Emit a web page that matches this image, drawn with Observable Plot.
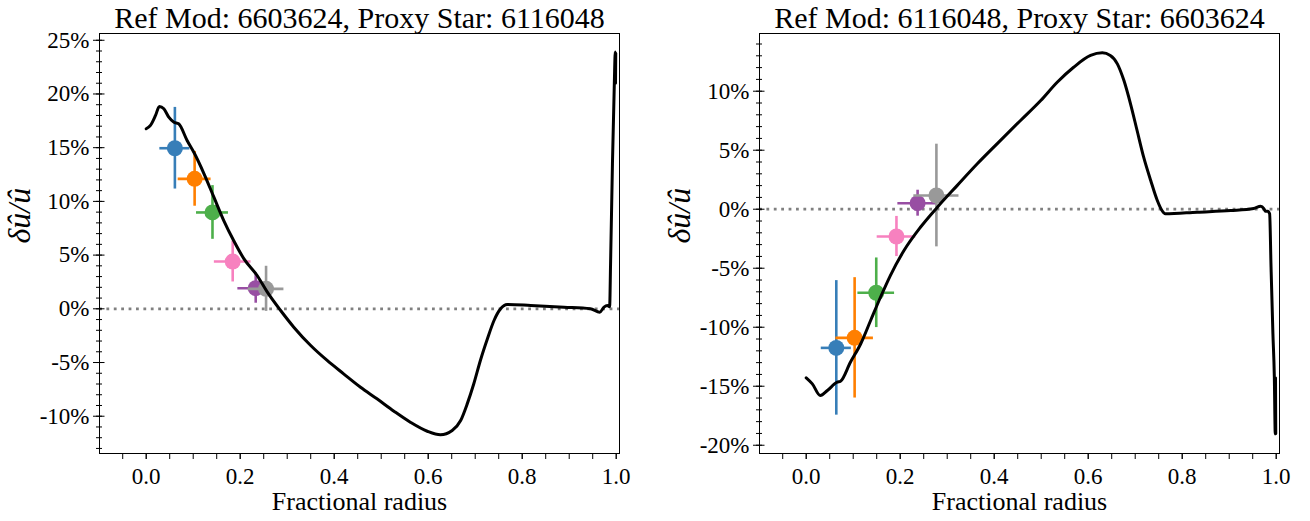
<!DOCTYPE html>
<html><head><meta charset="utf-8">
<script src="https://cdn.jsdelivr.net/npm/d3@7"></script>
<script src="https://cdn.jsdelivr.net/npm/@observablehq/plot@0.6"></script>
<style>body{margin:0;background:#fff;} #wrap{display:flex;width:1310px;height:521px;} svg text{font-family:'Liberation Serif','Times New Roman',serif;}</style>
</head><body><div id="wrap"></div>
<script>
// ---- Data ----
const colors = ["#377eb8", "#ff7f00", "#4daf4a", "#f781bf", "#984ea3", "#999999"];

const leftTitle = "Ref Mod: 6603624, Proxy Star: 6116048";
const leftCurveX = [0.0, 0.009, 0.0198, 0.028, 0.0375, 0.048, 0.059, 0.069, 0.087, 0.103, 0.123, 0.144, 0.165, 0.186, 0.208, 0.236, 0.257, 0.286, 0.314, 0.350, 0.385, 0.420, 0.456, 0.491, 0.527, 0.562, 0.598, 0.626, 0.651, 0.669, 0.683, 0.697, 0.711, 0.726, 0.740, 0.754, 0.768, 0.818, 0.889, 0.945, 0.965, 0.974, 0.981, 0.986, 0.988, 0.992, 0.996, 0.998, 0.9985, 0.999];
const leftCurveY = [16.76, 17.07, 18.0, 18.84, 18.62, 17.84, 17.37, 17.22, 15.67, 14.43, 12.57, 10.39, 8.22, 6.36, 4.65, 3.1, 1.6, -0.16, -1.71, -3.42, -4.81, -6.05, -7.3, -8.38, -9.53, -10.56, -11.4, -11.73, -11.33, -10.4, -8.85, -6.98, -4.81, -2.79, -1.09, 0.0, 0.4, 0.31, 0.15, 0.0, -0.31, 0.15, 0.31, 0.2, 4.2, 13.5, 21.0, 23.9, 21.0, 23.8];
const leftPtX = [0.061, 0.103, 0.141, 0.184, 0.233, 0.255];
const leftPtY = [14.95, 12.1, 8.97, 4.4, 1.92, 1.86];
const leftPtXerr = [0.032, 0.035, 0.034, 0.039, 0.038, 0.038];
const leftPtYerr = [3.8, 2.55, 2.5, 1.9, 1.4, 2.1];
const leftYDomain = [-13.47, 25.63];

const rightTitle = "Ref Mod: 6116048, Proxy Star: 6603624";
const rightCurveX = [0.0, 0.013, 0.030, 0.045, 0.066, 0.073, 0.094, 0.116, 0.137, 0.158, 0.179, 0.208, 0.243, 0.279, 0.321, 0.364, 0.406, 0.456, 0.499, 0.534, 0.569, 0.605, 0.63, 0.647, 0.662, 0.676, 0.69, 0.704, 0.718, 0.733, 0.747, 0.757, 0.764, 0.832, 0.903, 0.952, 0.967, 0.974, 0.977, 0.982, 0.986, 0.989, 0.993, 0.996, 0.998, 0.9985, 0.999];
const rightCurveY = [-14.29, -14.8, -15.79, -15.36, -14.66, -14.58, -12.97, -11.4, -9.43, -7.46, -5.62, -3.5, -1.53, 0.17, 2.0, 3.85, 5.54, 7.52, 9.21, 10.76, 12.03, 13.03, 13.25, 13.03, 12.32, 10.9, 8.93, 6.67, 4.41, 2.43, 0.74, -0.11, -0.39, -0.25, -0.11, 0.06, 0.25, 0.03, -0.17, -0.17, -0.39, -4.9, -10.56, -14.2, -19.03, -14.3, -19.0];
const rightPtX = [0.064, 0.103, 0.149, 0.192, 0.237, 0.277];
const rightPtY = [-11.75, -10.9, -7.08, -2.31, 0.51, 1.16];
const rightPtXerr = [0.032, 0.04, 0.039, 0.041, 0.042, 0.048];
const rightPtYerr = [5.7, 5.1, 2.95, 1.7, 1.1, 4.35];
const rightYDomain = [-20.7, 14.89];

const xDomain = [-0.0994, 1.007];
const xMajorTicks = [0.0, 0.2, 0.4, 0.6, 0.8, 1.0];
const xMinorTicks = d3.range(-1, 21).map(i => +(i * 0.05).toFixed(2));
const xLabel = "Fractional radius";
const yLabel = "δû/û";

const FONT = "'Liberation Serif', 'Times New Roman', serif";

function panel(o) {
  const curve = o.cx.map((x, i) => ({x, y: o.cy[i]}));
  const yMin = Math.ceil(o.yDomain[0]), yMax = Math.floor(o.yDomain[1]);
  const yMinor = d3.range(yMin, yMax + 1);
  const yMajor = yMinor.filter(v => v % 5 === 0);
  const blank = () => "";
  const marks = [
    Plot.ruleY([0], {stroke: "#808080", strokeWidth: 2.8, strokeDasharray: "2.8,4.6"}),
  ];
  o.px.forEach((_, i) => {
    marks.push(
      Plot.ruleY([i], {y: j => o.py[j], x1: j => o.px[j] - o.pxe[j], x2: j => o.px[j] + o.pxe[j], stroke: colors[i], strokeWidth: 2.6}),
      Plot.ruleX([i], {x: j => o.px[j], y1: j => o.py[j] - o.pye[j], y2: j => o.py[j] + o.pye[j], stroke: colors[i], strokeWidth: 2.6}),
      Plot.dot([i], {x: j => o.px[j], y: j => o.py[j], r: 8, fill: colors[i], stroke: "none"})
    );
  });
  marks.push(
    Plot.line(curve, {x: "x", y: "y", stroke: "black", strokeWidth: 3, curve: "monotone-x"}),
    Plot.frame({stroke: "black", strokeWidth: 1}),
    Plot.axisX({ticks: xMinorTicks, tickSize: 6, tickFormat: blank, label: null}),
    Plot.axisX({ticks: xMajorTicks, tickSize: 6, tickPadding: 8, tickFormat: d3.format(".1f"), fontSize: 23, fontFamily: FONT, label: null}),
    Plot.axisY({ticks: yMinor, tickSize: 3, tickFormat: blank, label: null}),
    Plot.axisY({ticks: yMinor, tickSize: 3, dx: 3, tickFormat: blank, label: null}),
    Plot.axisY({ticks: yMajor, tickSize: 5.5, dx: 5.5, tickFormat: blank, label: null}),
    Plot.axisY({ticks: yMajor, tickSize: 6, tickPadding: 4, tickFormat: d => d + "%", fontSize: 23, fontFamily: FONT, label: null}),
    Plot.text([o.title], {text: d => d, frameAnchor: "top", lineAnchor: "bottom", dy: -6, fontSize: 30, fontFamily: FONT, fill: "black"}),
    Plot.text([xLabel], {text: d => d, frameAnchor: "bottom", lineAnchor: "bottom", dy: 56, fontSize: 26, fontFamily: FONT, fill: "black"}),
    Plot.text([yLabel], {text: d => d, frameAnchor: "left", rotate: -90, dx: -80, fontSize: 32, fontStyle: "italic", fontFamily: FONT, fill: "black"})
  );
  return Plot.plot({
    width: 655, height: 521,
    marginLeft: o.ml, marginRight: o.mr, marginTop: 33, marginBottom: 68,
    x: {domain: xDomain, label: null},
    y: {domain: o.yDomain, label: null},
    style: {fontFamily: FONT, color: "black", background: "white"},
    marks
  });
}

const wrap = document.getElementById("wrap");
wrap.append(panel({title: leftTitle, cx: leftCurveX, cy: leftCurveY, px: leftPtX, py: leftPtY, pxe: leftPtXerr, pye: leftPtYerr, yDomain: leftYDomain, ml: 99, mr: 36}));
wrap.append(panel({title: rightTitle, cx: rightCurveX, cy: rightCurveY, px: rightPtX, py: rightPtY, pxe: rightPtXerr, pye: rightPtYerr, yDomain: rightYDomain, ml: 104, mr: 31}));
</script>
</body></html>
